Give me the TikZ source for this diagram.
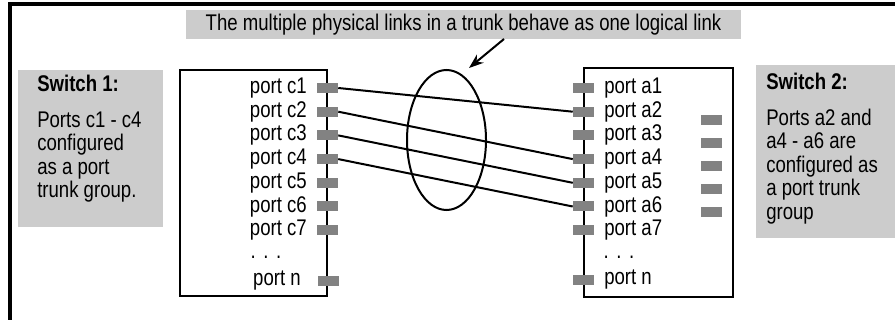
\documentclass[tikz,border=0pt]{standalone}
\usepackage{fontspec}
\setmainfont{Liberation Sans}[FakeStretch=0.82]
\usepackage{tikz}
\usetikzlibrary{positioning,shapes.geometric,arrows.meta}
\definecolor{notegray}{RGB}{204,204,204}
\definecolor{portgray}{RGB}{130,130,130}

\tikzset{
  port/.style={fill=portgray, draw=none, minimum width=15.75pt, minimum height=7.5pt, inner sep=0pt},
  txt/.style={inner sep=0.75pt, font=\fontsize{17}{17.6}\selectfont},
  link/.style={line width=1.5pt},
  swbox/.style={line width=2.2pt},
}

\begin{document}
\begin{tikzpicture}[x=0.75pt,y=0.75pt,yscale=-1,xscale=1]
\path[use as bounding box] (0,0) rectangle (895,320);

%Frame
\draw[line width=2.3pt] (10,320) -- (10,4) -- (895,4);

%Title
\node[txt, fill=notegray, minimum width=416.25pt, minimum height=21.75pt] (title) at (463.5,24.5) {The multiple physical links in a trunk behave as one logical link};
\coordinate (tail) at (504,39);
\coordinate (tip) at (469,68);
\draw[line width=1.5pt, -{Stealth[length=11pt,width=8pt]}] (tail) -- (tip);

%Notes
\fill[notegray] (18,70) rectangle (163,227);
\node[txt, anchor=north west, align=left] (note1) at (36,74) {\textbf{Switch 1:}\\[9pt]Ports c1 - c4\\configured\\as a port\\trunk group.};
\fill[notegray] (756,65) rectangle (895,238);
\node[txt, anchor=north west, align=left] (note2) at (765,72) {\textbf{Switch 2:}\\[9pt]Ports a2 and\\a4 - a6 are\\configured as\\a port trunk\\group};

%Switch 1
\draw[swbox] (180,70) rectangle (327,296);
\node[port] (c1) at (327.5,88) {};
\node[port] (c2) at (327.5,111.7) {};
\node[port] (c3) at (327.5,135.4) {};
\node[port] (c4) at (327.5,159.1) {};
\node[port] (c5) at (327.5,182.8) {};
\node[port] (c6) at (327.5,206.5) {};
\node[port] (c7) at (327.5,230.2) {};
\node[port] (cn) at (328.5,281) {};
% Text Node
\node[txt, anchor=east] (lc1) at (308,88) {port c1};
\node[txt, anchor=east] (lc2) at (308,111.7) {port c2};
\node[txt, anchor=east] (lc3) at (308,135.4) {port c3};
\node[txt, anchor=east] (lc4) at (308,159.1) {port c4};
\node[txt, anchor=east] (lc5) at (308,182.8) {port c5};
\node[txt, anchor=east] (lc6) at (308,206.5) {port c6};
\node[txt, anchor=east] (lc7) at (308,230.2) {port c7};
\node[txt] (ldots) at (266,257) {.\,\,.\,\,.};
\node[txt, anchor=east] (lcn) at (302,281) {port n};

%Switch 2
\draw[swbox] (584,68) rectangle (733,297);
\node[port] (a1) at (583.5,88) {};
\node[port] (a2) at (583.5,111.7) {};
\node[port] (a3) at (583.5,135.4) {};
\node[port] (a4) at (583.5,159.1) {};
\node[port] (a5) at (583.5,182.8) {};
\node[port] (a6) at (583.5,206.5) {};
\node[port] (a7) at (583.5,230.2) {};
\node[port] (an) at (583.5,280) {};
\node[port] (g1) at (711,120) {};
\node[port] (g2) at (711,143) {};
\node[port] (g3) at (711,166) {};
\node[port] (g4) at (711,189) {};
\node[port] (g5) at (711,212) {};
% Text Node
\node[txt, anchor=west] (la1) at (603,88) {port a1};
\node[txt, anchor=west] (la2) at (603,111.7) {port a2};
\node[txt, anchor=west] (la3) at (603,135.4) {port a3};
\node[txt, anchor=west] (la4) at (603,159.1) {port a4};
\node[txt, anchor=west] (la5) at (603,182.8) {port a5};
\node[txt, anchor=west] (la6) at (603,206.5) {port a6};
\node[txt, anchor=west] (la7) at (603,230.2) {port a7};
\node[txt] (rdots) at (619,257) {.\,\,.\,\,.};
\node[txt, anchor=west] (lan) at (603,280) {port n};

%Trunk
\node[draw, ellipse, line width=1.5pt, minimum width=59.25pt, minimum height=105pt, inner sep=0pt] (trunk) at (446.5,140) {};
\draw[link] (c1.east) -- (a2.west);
\draw[link] (c2.east) -- (a4.west);
\draw[link] (c3.east) -- (a5.west);
\draw[link] (c4.east) -- (a6.west);
\end{tikzpicture}
\end{document}
